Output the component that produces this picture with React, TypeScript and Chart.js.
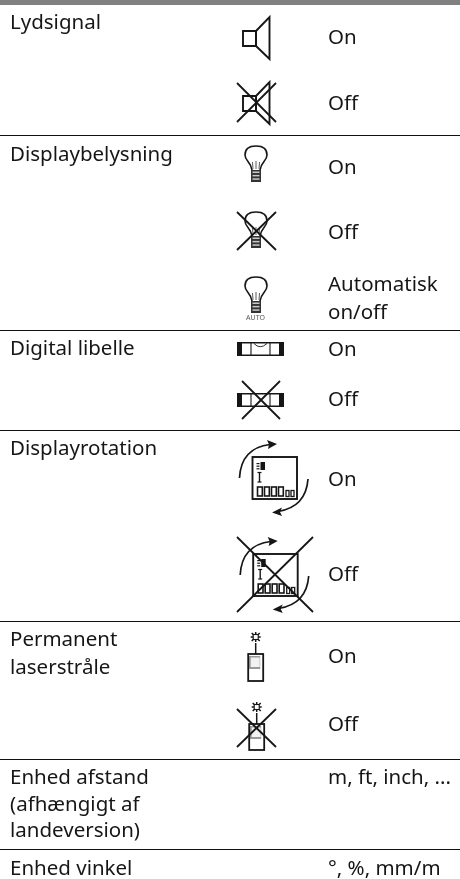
import React, { useEffect, useRef } from "react";
import { Chart, registerables } from "chart.js";

Chart.register(...registerables);

const separatorRows = [135.5, 330.5, 430.5, 621.5, 759.5, 849.5];
const headerBandRow = 2.5;
const featureLabels: [string, number][] = [
  ["Lydsignal", 29], ["Displaybelysning", 160.5], ["Digital libelle", 355], ["Displayrotation", 455],
  ["Permanent", 646], ["laserstråle", 673.5], ["Enhed afstand", 784], ["(afhængigt af", 811],
  ["landeversion)", 837], ["Enhed vinkel", 874.5],
];
const stateLabels: [string, number][] = [
  ["On", 44], ["Off", 109.5], ["On", 173.5], ["Off", 238.5], ["Automatisk", 291], ["on/off", 319],
  ["On", 355.5], ["Off", 405.5], ["On", 485.5], ["Off", 580.5], ["On", 662.5], ["Off", 730.5],
  ["m, ft, inch, ...", 784], ["°, %, mm/m", 874.5],
];
const speakerRows = [0, 65];
const bulbRows = [146, 212, 277];
const levelRows = [342, 393];
const rotationRows = [457, 554];
const laserRows = [637, 707];
const crossBoxes: [number, number, number, number][] = [
  [237, 83, 276, 122], [237, 212, 276, 250], [242, 381, 280, 419], [237, 537, 313, 612], [237, 709, 276, 747],
];

const INK = "#161616";

const iconsAndText = {
  id: "iconsAndText",
  afterDatasetsDraw(chart: any) {
    const c = chart.ctx as CanvasRenderingContext2D;
    const X = (v: number) => chart.scales.x.getPixelForValue(v);
    const Y = (v: number) => chart.scales.y.getPixelForValue(v);
    const poly = (pts: number[][], close = false, w = 1.5) => {
      c.beginPath();
      pts.forEach((p, i) => (i ? c.lineTo(X(p[0]), Y(p[1])) : c.moveTo(X(p[0]), Y(p[1]))));
      if (close) c.closePath();
      c.lineWidth = w;
      c.strokeStyle = INK;
      c.stroke();
    };
    const rect = (x0: number, y0: number, x1: number, y1: number, fill: string) => {
      c.fillStyle = fill;
      c.fillRect(X(x0), Y(y0), X(x1) - X(x0), Y(y1) - Y(y0));
    };
    c.save();
    c.lineCap = "butt";

    // speaker
    speakerRows.forEach((d) => {
      poly([[243, 31 + d], [256, 31 + d], [256, 46 + d], [243, 46 + d]], true, 1.9);
      poly([[256, 31 + d], [269.5, 17 + d], [269.5, 59 + d], [256, 46 + d]], true, 1.9);
    });

    // bulb
    bulbRows.forEach((t) => {
      c.beginPath();
      c.moveTo(X(252), Y(t + 24));
      c.bezierCurveTo(X(251), Y(t + 16), X(245), Y(t + 15), X(245), Y(t + 9));
      c.bezierCurveTo(X(245), Y(t + 2), X(250), Y(t), X(256), Y(t));
      c.bezierCurveTo(X(262), Y(t), X(267), Y(t + 2), X(267), Y(t + 9));
      c.bezierCurveTo(X(267), Y(t + 15), X(261), Y(t + 16), X(260), Y(t + 24));
      c.lineWidth = 1.6;
      c.strokeStyle = INK;
      c.stroke();
      rect(251, t + 24, 261, t + 36, "#333");
      for (let i = 0; i < 3; i++) rect(252.5, t + 25.5 + i * 3.4, 259.5, t + 27 + i * 3.4, "#c8c8c8");
      poly([[253, t + 23], [252.5, t + 16]], false, 0.7);
      poly([[256, t + 23], [256, t + 15]], false, 0.7);
      poly([[259, t + 23], [259.5, t + 16]], false, 0.7);
    });
    c.font = '7px "Noto Sans"';
    c.fillStyle = "#555";
    c.textAlign = "center";
    c.fillText("AUTO", X(255.5), Y(320));

    // level
    levelRows.forEach((t, idx) => {
      rect(237, t, 284, t + 14, INK);
      rect(242, t + 1.5, 279, t + 12.5, "#fff");
      poly([[251, t], [251, t + 14]], false, 1.1);
      poly([[270, t], [270, t + 14]], false, 1.1);
      if (idx === 0) {
        c.beginPath();
        c.moveTo(X(254), Y(t + 1.5));
        c.quadraticCurveTo(X(260), Y(t + 8), X(267), Y(t + 1.5));
        c.lineWidth = 0.9;
        c.strokeStyle = INK;
        c.stroke();
      }
    });

    // rotation display
    rotationRows.forEach((t, idx) => {
      const dx = idx === 0 ? 0 : 0.7;
      const l = 252.5 + dx;
      c.strokeStyle = INK;
      c.lineWidth = 1.9;
      c.strokeRect(X(l), Y(t), 44.5, 42);
      rect(l + 8, t + 5, l + 12.5, t + 13, INK);
      for (let i = 0; i < 3; i++) rect(l + 4, t + 6 + i * 2.6, l + 7, t + 7.2 + i * 2.6, INK);
      poly([[l + 7, t + 15.5], [l + 7, t + 25]], false, 1.4);
      poly([[l + 5, t + 15.5], [l + 9, t + 15.5]], false, 1.2);
      poly([[l + 5, t + 25], [l + 9, t + 25]], false, 1.2);
      [5, 12, 19, 26].forEach((o) => {
        c.lineWidth = 1.6;
        c.strokeRect(X(l + o), Y(t + 30), 4.8, 9);
      });
      [33.5, 38.5].forEach((o) => {
        c.lineWidth = 1.3;
        c.strokeRect(X(l + o), Y(t + 33.5), 3, 6);
      });
      // arcs with arrowheads
      c.lineWidth = 1.7;
      c.beginPath();
      c.moveTo(X(239.5 + dx), Y(t + 21));
      c.quadraticCurveTo(X(241 + dx), Y(t - 9), X(270 + dx), Y(t - 12.5));
      c.moveTo(X(308 + dx), Y(t + 22));
      c.quadraticCurveTo(X(306 + dx), Y(t + 50), X(278 + dx), Y(t + 54.5));
      c.stroke();
      c.fillStyle = INK;
      c.beginPath();
      c.moveTo(X(277 + dx), Y(t - 13));
      c.lineTo(X(267 + dx), Y(t - 17));
      c.lineTo(X(269 + dx), Y(t - 12.5));
      c.lineTo(X(268 + dx), Y(t - 8));
      c.closePath();
      c.fill();
      c.beginPath();
      c.moveTo(X(272 + dx), Y(t + 55.5));
      c.lineTo(X(282 + dx), Y(t + 50.5));
      c.lineTo(X(280 + dx), Y(t + 55));
      c.lineTo(X(282 + dx), Y(t + 59));
      c.closePath();
      c.fill();
    });

    // laser meter
    laserRows.forEach((sy, idx) => {
      const cx = idx === 0 ? 255.7 : 256.7;
      const top = idx === 0 ? 654 : 724;
      poly([[cx - 4, sy - 4], [cx + 4, sy + 4]], false, 1.5);
      poly([[cx + 4, sy - 4], [cx - 4, sy + 4]], false, 1.5);
      poly([[cx - 5, sy], [cx + 5, sy]], false, 1.5);
      poly([[cx, sy - 5], [cx, sy + 5]], false, 1.5);
      rect(cx - 2.5, sy - 2.5, cx + 2.5, sy + 2.5, "#fff");
      c.strokeStyle = INK;
      c.lineWidth = 1.1;
      c.strokeRect(X(cx - 2.5), Y(sy - 2.5), 5, 5);
      poly([[cx, sy + 6], [cx, top]], false, 1.5);
      rect(cx - 7, top + 2, cx + 4.5, top + 15, "#9a9a9a");
      rect(cx - 5, top + 3.5, cx + 4, top + 13, "#f2f2f2");
      c.strokeStyle = INK;
      c.lineWidth = 1.8;
      c.strokeRect(X(cx - 7.5), Y(top), 15, idx === 0 ? 27 : 26);
    });

    // crosses
    crossBoxes.forEach(([a, b, e, f]) => {
      poly([[a, b], [e, f]], false, 1.8);
      poly([[e, b], [a, f]], false, 1.8);
    });

    // text
    c.font = '20.5px "Noto Sans"';
    c.fillStyle = INK;
    c.textAlign = "left";
    c.textBaseline = "alphabetic";
    featureLabels.forEach(([s, y]) => c.fillText(s, X(10), Y(y)));
    stateLabels.forEach(([s, y]) => c.fillText(s, X(328), Y(y)));
    c.restore();
  },
};

export default function App() {
  const ref = useRef<HTMLCanvasElement>(null);
  useEffect(() => {
    const line = (y: number, w: number, col: string) => ({
      data: [{ x: 0, y }, { x: 460, y }],
      showLine: true,
      pointRadius: 0,
      borderWidth: w,
      borderColor: col,
    });
    const chart = new Chart(ref.current!, {
      type: "scatter",
      data: {
        datasets: [line(headerBandRow, 5, "#808080"), ...separatorRows.map((y) => line(y, 1, "#111"))],
      },
      options: {
        animation: false,
        responsive: false,
        layout: { padding: 0 },
        plugins: { legend: { display: false }, tooltip: { enabled: false } },
        scales: {
          x: { type: "linear", min: 0, max: 460, display: false },
          y: { type: "linear", min: 0, max: 879, reverse: true, display: false },
        },
      },
      plugins: [iconsAndText],
    } as any);
    return () => chart.destroy();
  }, []);
  return (
    <div style={{ position: "absolute", left: 0, top: 0, width: 460, height: 879, background: "#fff" }}>
      <canvas ref={ref} width={460} height={879} style={{ display: "block" }} />
    </div>
  );
}
